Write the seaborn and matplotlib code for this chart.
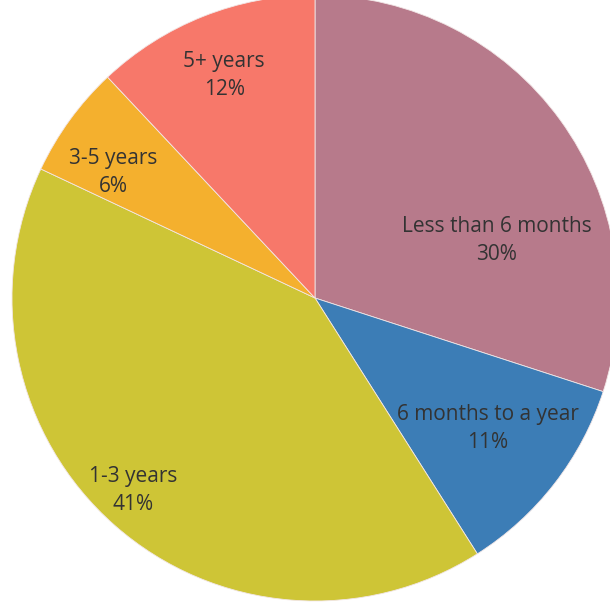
import matplotlib
matplotlib.use("Agg")
import matplotlib.pyplot as plt
import seaborn as sns

# data (clockwise from 12 o'clock)
categories = ["Less than 6 months", "6 months to a year", "1-3 years", "3-5 years", "5+ years"]
shares = [30, 11, 41, 6, 12]
colors = ["#b77a8b", "#3c7db6", "#cec536", "#f4b02e", "#f7786a"]

# label centres (x, y) in pie-radius units, as the original placed them
label_pos = [(0.60, 0.19), (0.57, -0.43), (-0.60, -0.635), (-0.665, 0.415), (-0.30, 0.735)]

sns.set_theme(style="white")
plt.rcParams["font.family"] = ["Open Sans", "DejaVu Sans"]

fig = plt.figure(figsize=(6.10, 6.03), dpi=100)
ax = fig.add_axes([0, 0, 1, 1])

wedges, _ = ax.pie(shares, colors=colors, startangle=90, counterclock=False,
                   radius=1.0, wedgeprops=dict(linewidth=0.6, edgecolor="#f2e6e6"))

for cat, val, (x, y) in zip(categories, shares, label_pos):
    ax.text(x, y, f"{cat}\n{val}%", ha="center", va="center", fontsize=15,
            color="#333333", linespacing=1.45)

r = 303.0
ax.set_xlim(-315 / r, (610 - 315) / r)
ax.set_ylim(-(603 - 298) / r, 298 / r)
ax.set_aspect("auto")
ax.axis("off")

fig.savefig("out.png", dpi=100, facecolor="white")
